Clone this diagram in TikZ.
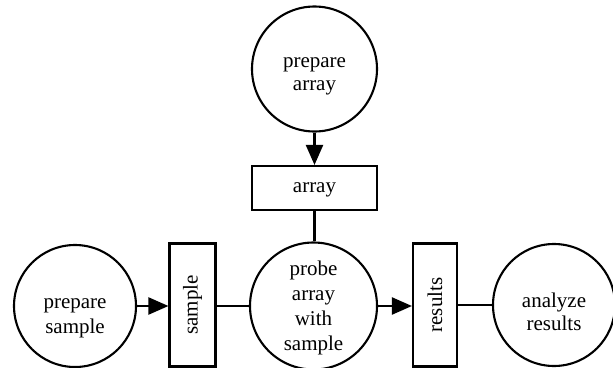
\documentclass[tikz,border=0pt]{standalone}
\usepackage{fontspec}
\setmainfont{Liberation Serif}
\usetikzlibrary{arrows.meta}
\newcommand{\stack}[1]{\begin{tabular}{@{}c@{}}#1\end{tabular}}
\begin{document}
\begin{tikzpicture}[x=1pt,y=-1pt,
  proc/.style={draw,circle,line width=2.1pt,inner sep=0pt},
  store/.style={draw,rectangle,line width=2.1pt,inner sep=0pt,
    font=\fontsize{21}{23}\selectfont},
  txt/.style={inner sep=0pt,font=\fontsize{21}{#1}\selectfont},
  txt/.default=25,
  flow/.style={line width=2.2pt,-{Triangle[length=20pt,width=17pt]}},
  link/.style={line width=2.2pt}]
\useasboundingbox (0,0) rectangle (613,367);
\clip (0,0) rectangle (613,367);
% shapes
\node[proc,minimum size=125pt] (pa) at (314.5,69) {};
\node[store,minimum width=125pt,minimum height=44pt] (arr) at (314.5,188) {\stack{array}};
\node[proc,minimum size=122pt] (ps) at (75,306) {};
\node[store,minimum width=46pt,minimum height=123pt] (sb) at (192.5,305) {\rotatebox{90}{sample}};
\node[proc,minimum size=127pt] (pr) at (313.5,306) {};
\node[store,minimum width=44pt,minimum height=123pt] (rb) at (435,305) {\rotatebox{90}{results}};
\node[proc,minimum size=122pt] (an) at (554,305) {};
% texts
\node[txt=23] (pat) at (314.5,74) {\stack{prepare\\array}};
\node[txt] (pst) at (75,315.5) {\stack{prepare\\sample}};
\node[txt] (prt) at (313.5,307.5) {\stack{probe\\array\\with\\sample}};
\node[txt=23] (ant) at (554,314.5) {\stack{analyze\\results}};
% connectors
\draw[flow] (pa.south -| arr.north) -- (arr.north);
\draw[link] (arr.south) -- (arr.south |- pr.north);
\draw[flow] (ps.east) -- (ps.east -| sb.west);
\draw[link] (sb.east |- pr.west) -- (pr.west);
\draw[flow] (pr.east) -- (pr.east -| rb.west);
\draw[link] (rb.east |- an.west) -- (an.west);
\end{tikzpicture}
\end{document}
